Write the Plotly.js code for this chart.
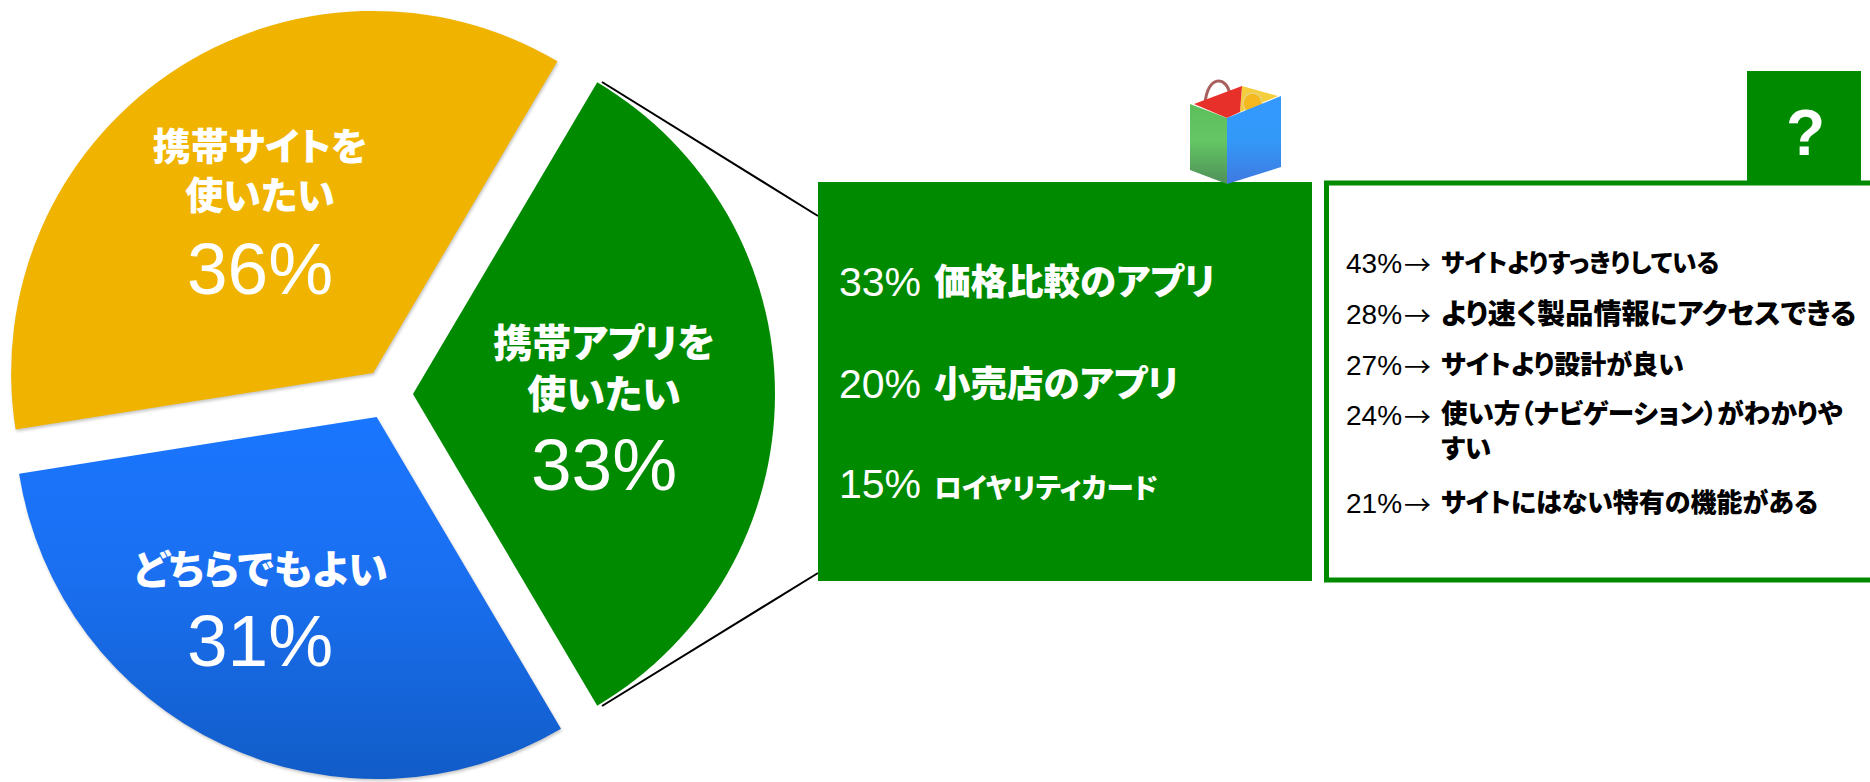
<!DOCTYPE html>
<html lang="ja">
<head>
<meta charset="utf-8">
<title>携帯アプリと携帯サイト</title>
<script src="https://cdn.plot.ly/plotly-3.0.1.min.js"></script>
<style>
html,body{margin:0;padding:0;background:#fff;overflow:hidden}
#chart{width:1870px;height:782px}
#chart text{font-feature-settings:"palt" 1}
</style>
</head>
<body>
<div id="chart"></div>
<script>
// ---- data ----
const categories = ['携帯サイトを<br>使いたい', '携帯アプリを<br>使いたい', 'どちらでもよい'];
const values = [36, 33, 31];
const sliceColors = ['#F0B400', '#008A00', '#1A76FF'];

const appShares = [33, 20, 15];
const appNames = ['価格比較のアプリ', '小売店のアプリ', 'ロイヤリティカード'];

const reasonShares = [43, 28, 27, 24, 21];
const reasonTexts = [
  'サイトよりすっきりしている',
  'より速く製品情報にアクセスできる',
  'サイトより設計が良い',
  '使い方（ナビゲーション）がわかりや<br>すい',
  'サイトにはない特有の機能がある'
];

// ---- layout helpers (page pixels to paper fractions) ----
const W = 1870, H = 782;
const FONT = '"Liberation Sans","Noto Sans CJK JP",sans-serif';
const GREEN = '#008A00';
const fx = x => x / W;
const fy = y => 1 - y / H;
const pathOf = pts => 'M' + pts.map(p => fx(p[0]) + ',' + fy(p[1])).join('L') + 'Z';

function label(x, y, text, size, color, anchor, bold, family) {
  return {
    xref: 'paper', yref: 'paper', x: fx(x), y: fy(y),
    text: text,
    showarrow: false, xanchor: anchor, yanchor: 'middle', align: anchor,
    borderpad: 0, borderwidth: 0,
    font: {family: family || FONT, size: size, color: color, weight: bold ? 900 : 400}
  };
}

// ---- annotations ----
const catPos = [[260, 171, 268], [604, 369, 465], [260, 570, 640]];
const catSize = [38, 39, 40];
const annotations = [];
categories.forEach((c, i) => {
  annotations.push(label(catPos[i][0], catPos[i][1], c, catSize[i], '#fff', 'center', true));
  annotations.push(label(catPos[i][0], catPos[i][2], values[i] + '%', 73, '#fff', 'center', false));
});

const appY = [282, 384, 484];
const appNameY = [282, 384, 488];
const appSize = [36.5, 36.5, 27.5];
appShares.forEach((s, i) => {
  annotations.push(label(839, appY[i], s + '%', 41, '#fff', 'left', false));
  annotations.push(label(934, appNameY[i], appNames[i], appSize[i], '#fff', 'left', true));
});

const reasonY = [263, 314, 365, 415, 503];
const reasonSize = [24.6, 28.2, 26, 26.6, 26];
reasonShares.forEach((s, i) => {
  annotations.push(label(1346, reasonY[i], s + '%', 28, '#000', 'left', false));
  annotations.push(label(1404, reasonY[i], '→', 27, '#000', 'left', false, '"Noto Sans CJK JP"'));
  const multi = reasonTexts[i].indexOf('<br>') >= 0;
  annotations.push(label(1441, reasonY[i] + (multi ? 17 : 0), reasonTexts[i], reasonSize[i], '#000', 'left', true));
});
annotations.push(label(1805, 133, '?', 64, '#fff', 'center', true));

// ---- shapes ----
const poly = (pts, fill) => ({type: 'path', xref: 'paper', yref: 'paper', path: pathOf(pts), fillcolor: fill, line: {width: 0}});
const seg = (a, b) => ({type: 'line', xref: 'paper', yref: 'paper', x0: fx(a[0]), y0: fy(a[1]), x1: fx(b[0]), y1: fy(b[1]), line: {color: '#000', width: 2}});
const rect = (x0, y0, x1, y1, fill, lineColor, lineWidth) => ({
  type: 'rect', xref: 'paper', yref: 'paper', x0: fx(x0), y0: fy(y0), x1: fx(x1), y1: fy(y1),
  fillcolor: fill, line: {color: lineColor || fill, width: lineWidth || 0}
});
const shapes = [
  seg([602, 82], [818, 216]),
  seg([602, 706], [818, 573]),
  rect(818, 182, 1312, 581, GREEN),
  rect(1326.5, 183, 1885, 580, '#fff', GREEN, 5),
  rect(1747, 71, 1861, 185, GREEN)
];
const bagStart = shapes.length;
shapes.push(
  {type: 'path', xref: 'paper', yref: 'paper',
   path: 'M' + fx(1205) + ',' + fy(104) + 'C' + fx(1207) + ',' + fy(75) + ' ' + fx(1227) + ',' + fy(75) + ' ' + fx(1230) + ',' + fy(95),
   line: {color: '#A8605F', width: 3}},
  poly([[1242, 86], [1278, 96], [1240, 112]], '#F4CE3C'),
  {type: 'circle', xref: 'paper', yref: 'paper', x0: fx(1243), y0: fy(113), x1: fx(1262), y1: fy(93), fillcolor: '#F5B81E', line: {color: '#E8D27A', width: 1.5}},
  poly([[1194, 104], [1242, 86], [1240, 112], [1227, 118]], '#E8302A'),
  poly([[1190, 104], [1227, 118], [1227, 184], [1190, 170]], '#5FC45F'),
  poly([[1227, 118], [1281, 96], [1281, 167], [1227, 184]], '#3797F5')
);

// ---- chart ----
const trace = {
  type: 'pie',
  labels: categories,
  values: values,
  sort: false,
  direction: 'clockwise',
  rotation: 261,
  pull: 0.0703,
  textinfo: 'none',
  hoverinfo: 'skip',
  marker: {colors: sliceColors, line: {width: 0}},
  domain: {x: [0, 775 / W], y: [0, 776 / H]}
};

const layout = {
  width: W, height: H,
  margin: {l: 0, r: 0, t: 0, b: 0, pad: 0},
  paper_bgcolor: '#fff',
  showlegend: false,
  annotations: annotations,
  shapes: shapes,
  font: {family: FONT}
};

Plotly.newPlot('chart', [trace], layout, {displayModeBar: false, staticPlot: true}).then(gd => {
  const svg = gd.querySelector('.main-svg');
  const ns = 'http://www.w3.org/2000/svg';
  const defs = svg.querySelector('defs') || svg.insertBefore(document.createElementNS(ns, 'defs'), svg.firstChild);
  function grad(id, stops) {
    const g = document.createElementNS(ns, 'linearGradient');
    g.setAttribute('id', id);
    g.setAttribute('x1', '0'); g.setAttribute('y1', '0'); g.setAttribute('x2', '0'); g.setAttribute('y2', '1');
    stops.forEach(s => {
      const st = document.createElementNS(ns, 'stop');
      st.setAttribute('offset', s[0]); st.setAttribute('stop-color', s[1]);
      g.appendChild(st);
    });
    defs.appendChild(g);
  }
  grad('blueGrad', [['0', '#1A76FF'], ['0.45', '#1A6FF0'], ['1', '#115CC8']]);
  grad('bagGreen', [['0', '#5CBF5C'], ['0.45', '#64C664'], ['1', '#4F9159']]);
  grad('bagBlue', [['0', '#3399FF'], ['0.5', '#3399F8'], ['1', '#4079E0']]);

  const paths = gd.querySelectorAll('.slice path.surface');
  if (paths[2]) paths[2].style.fill = 'url(#blueGrad)';
  // faint soft edge on the two left slices
  [0, 2].forEach(i => { if (paths[i]) paths[i].style.filter = 'drop-shadow(1px 2px 1.5px rgba(0,0,0,.22))'; });

  // soften the small bag icon
  const shapePaths = gd.querySelectorAll('.shapelayer path');
  for (let i = bagStart; i < shapes.length; i++) {
    if (shapePaths[i]) shapePaths[i].style.filter = 'blur(0.7px)';
  }
  const last = shapes.length - 1;
  if (shapePaths[last - 1]) shapePaths[last - 1].style.fill = 'url(#bagGreen)';
  if (shapePaths[last]) shapePaths[last].style.fill = 'url(#bagBlue)';
});
</script>
</body>
</html>
